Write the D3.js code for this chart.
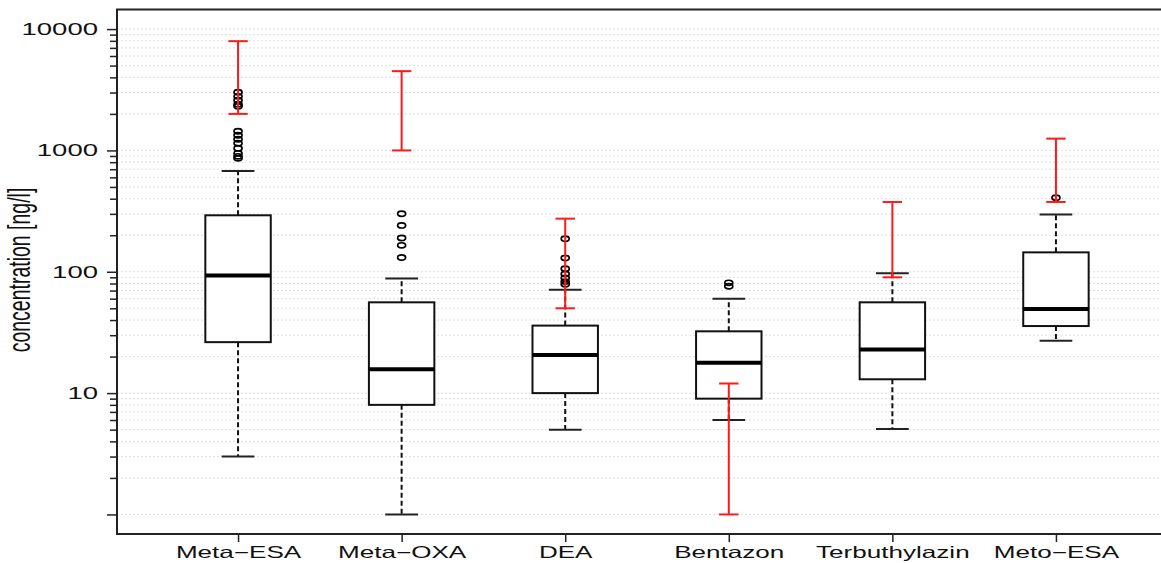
<!DOCTYPE html>
<html>
<head>
<meta charset="utf-8">
<script src="https://cdn.jsdelivr.net/npm/d3@7"></script>
<style>
  body { margin: 0; background: #fff; }
  svg { display: block; font-family: "Liberation Sans", Arial, sans-serif; }
</style>
</head>
<body>
<svg id="chart" width="1161" height="563"></svg>
<script>
// values (ng/l)
var categories = ["Meta\u2212ESA", "Meta\u2212OXA", "DEA", "Bentazon", "Terbuthylazin", "Meto\u2212ESA"];
var whiskerLow  = [3.0, 1.0, 5.0, 6.0, 5.05, 27];
var q1          = [26.3, 8.0, 10.0, 9.0, 13.0, 35.7];
var median      = [93, 15.7, 20.6, 17.8, 22.9, 49.3];
var q3          = [292, 56, 36, 32.3, 56, 144.5];
var whiskerHigh = [676, 88, 71, 60, 97, 296];
var outliers = [
  [3013, 2790, 2590, 2400, 2310, 1437, 1333, 1237, 1146, 1041, 946, 894, 861],
  [301, 241, 190, 165, 131],
  [187, 130, 106, 96, 89, 83, 79],
  [81, 76],
  [],
  [408]
];
// red range bars
var rangeLow  = [2000, 1000, 50, 1, 90, 376];
var rangeHigh = [7950, 4500, 274, 12, 376, 1251];

var majorTicks = [1, 10, 100, 1000, 10000];
var minorTicks = [2, 3, 4, 5, 6, 7, 8, 9, 20, 30, 40, 50, 60, 70, 80, 90,
  200, 300, 400, 500, 600, 700, 800, 900, 2000, 3000, 4000, 5000, 6000, 7000, 8000, 9000];

var stretch = 1.6; // the original is squeezed wider than tall

var svg = d3.select("#chart"),
  margin = {left: 117, top: 9.5, bottom: 534, right: 1177};

var x = d3.scalePoint()
  .domain(categories)
  .range([margin.left, margin.right])
  .padding(0.74);

var y = d3.scaleLog()
  .domain([0.69, 14500])
  .range([margin.bottom, margin.top]);

var step = x.step();
var boxHalf = step * 0.2, stapleHalf = step * 0.1, capHalf = 9.7;

var data = categories.map((c, i) => ({
  name: c, lo: whiskerLow[i], q1: q1[i], med: median[i], q3: q3[i], hi: whiskerHigh[i],
  out: outliers[i], rLo: rangeLow[i], rHi: rangeHigh[i]
}));

/* grid lines */
svg.append("g").selectAll("line")
  .data(majorTicks.concat(minorTicks))
  .enter().append("line")
  .attr("x1", margin.left).attr("x2", margin.right)
  .attr("y1", d => y(d)).attr("y2", d => y(d))
  .attr("stroke", "#dedede")
  .attr("stroke-width", 1)
  .attr("stroke-dasharray", "2,2");

/* y axis */
var yMajor = svg.append("g")
  .attr("transform", `translate(${margin.left},0)`)
  .call(d3.axisLeft(y).tickValues(majorTicks).tickSize(10).tickPadding(9)
    .tickFormat(d => d === 1 ? "" : d3.format("d")(d)));
yMajor.select(".domain").remove();
yMajor.selectAll("line").attr("stroke", "#222").attr("stroke-width", 1.5);
yMajor.selectAll("text")
  .attr("x", 0)
  .attr("transform", "translate(-19,0) scale(" + stretch + ",1)")
  .attr("fill", "#111")
  .style("font-size", "17.2px");

var yMinor = svg.append("g")
  .attr("transform", `translate(${margin.left},0)`)
  .call(d3.axisLeft(y).tickValues(minorTicks).tickSize(7).tickFormat(""));
yMinor.select(".domain").remove();
yMinor.selectAll("line").attr("stroke", "#222").attr("stroke-width", 1.5);

/* x axis */
var xAxis = svg.append("g")
  .attr("transform", `translate(0,${margin.bottom})`)
  .call(d3.axisBottom(x).tickSize(8));
xAxis.select(".domain").remove();
xAxis.selectAll("line").attr("stroke", "#222").attr("stroke-width", 1.5);
xAxis.selectAll("text")
  .attr("y", 0).attr("dy", 0)
  .attr("transform", "translate(0,24) scale(" + stretch + ",1)")
  .attr("fill", "#111")
  .style("font-size", "16.3px");

/* frame */
svg.append("rect")
  .attr("x", margin.left).attr("y", margin.top)
  .attr("width", margin.right - margin.left)
  .attr("height", margin.bottom - margin.top)
  .attr("fill", "none")
  .attr("stroke", "#222")
  .attr("stroke-width", 2);

/* y label */
svg.append("text")
  .attr("transform", "translate(30,270) scale(" + stretch + ",1) rotate(-90)")
  .attr("text-anchor", "middle")
  .attr("fill", "#111")
  .style("font-size", "19.5px")
  .text("concentration [ng/l]");

/* boxplots */
var box = svg.append("g").selectAll("g.box")
  .data(data).enter().append("g")
  .attr("class", "box")
  .attr("transform", d => `translate(${x(d.name)},0)`);

// dashed whiskers
box.append("line")
  .attr("y1", d => y(d.q3)).attr("y2", d => y(d.hi))
  .attr("stroke", "#111").attr("stroke-width", 2).attr("stroke-dasharray", "5,3");
box.append("line")
  .attr("y1", d => y(d.q1)).attr("y2", d => y(d.lo))
  .attr("stroke", "#111").attr("stroke-width", 2).attr("stroke-dasharray", "5,3");

// staples
box.selectAll("line.staple")
  .data(d => [d.lo, d.hi]).enter().append("line")
  .attr("class", "staple")
  .attr("x1", -stapleHalf).attr("x2", stapleHalf)
  .attr("y1", v => y(v)).attr("y2", v => y(v))
  .attr("stroke", "#222").attr("stroke-width", 2);

box.append("rect")
  .attr("x", -boxHalf).attr("width", 2 * boxHalf)
  .attr("y", d => y(d.q3))
  .attr("height", d => y(d.q1) - y(d.q3))
  .attr("fill", "#fff")
  .attr("stroke", "#111")
  .attr("stroke-width", 2);

box.append("line")
  .attr("x1", -boxHalf).attr("x2", boxHalf)
  .attr("y1", d => y(d.med)).attr("y2", d => y(d.med))
  .attr("stroke", "#000").attr("stroke-width", 4);

box.selectAll("ellipse")
  .data(d => d.out).enter().append("ellipse")
  .attr("cy", v => y(v))
  .attr("rx", 4).attr("ry", 2.6)
  .attr("fill", "none")
  .attr("stroke", "#000")
  .attr("stroke-width", 1.7);

/* red range bars */
var range = svg.append("g").selectAll("g.range")
  .data(data).enter().append("g")
  .attr("class", "range")
  .attr("transform", d => `translate(${x(d.name)},0)`);

range.append("line")
  .attr("y1", d => y(d.rLo)).attr("y2", d => y(d.rHi))
  .attr("stroke", "#ff1a1a").attr("stroke-width", 2);

range.selectAll("line.cap")
  .data(d => [d.rLo, d.rHi]).enter().append("line")
  .attr("class", "cap")
  .attr("x1", -capHalf).attr("x2", capHalf)
  .attr("y1", v => y(v)).attr("y2", v => y(v))
  .attr("stroke", "#ff1a1a").attr("stroke-width", 2);
</script>
</body>
</html>
